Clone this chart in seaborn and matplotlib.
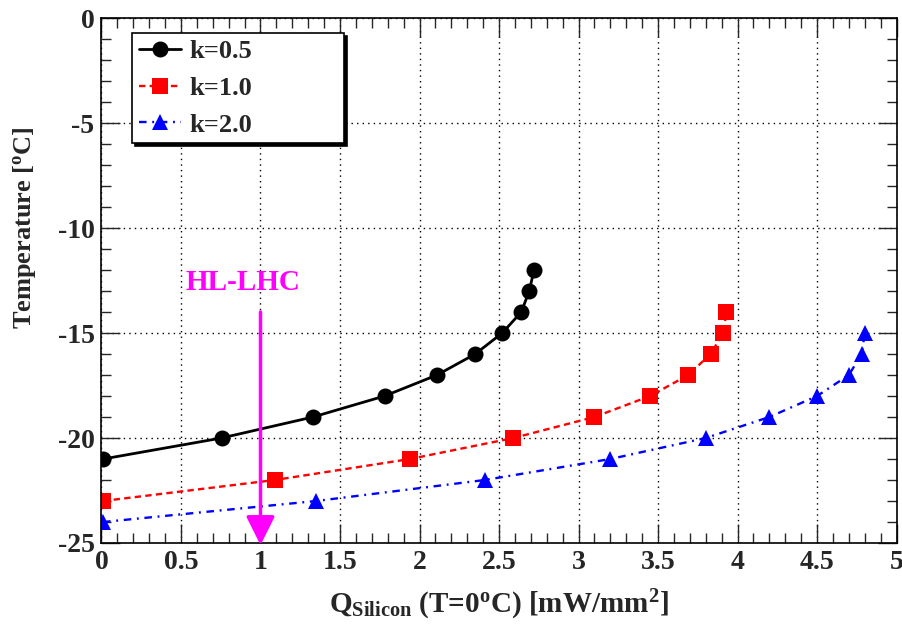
import numpy as np
import pandas as pd
import seaborn as sns
import matplotlib.pyplot as plt
from matplotlib.ticker import MultipleLocator

# Q_Silicon [mW/mm2] vs temperature [C] for three conductivity values
temps_k05 = [-21, -20, -19, -18, -17, -16, -15, -14, -13, -12]
q_k05 = [0.01, 0.755, 1.33, 1.78, 2.11, 2.35, 2.52, 2.64, 2.69, 2.72]

temps_k10 = [-23, -22, -21, -20, -19, -18, -17, -16, -15, -14]
q_k10 = [0.01, 1.09, 1.94, 2.59, 3.10, 3.45, 3.69, 3.83, 3.91, 3.93]

temps_k20 = [-24, -23, -22, -21, -20, -19, -18, -17, -16, -15]
q_k20 = [0.01, 1.35, 2.41, 3.20, 3.80, 4.20, 4.50, 4.70, 4.78, 4.80]

series_names = ["k=0.5", "k=1.0", "k=2.0"]

hl_lhc_q = 1.0
hl_lhc_top = -14.0

sns.set_style("ticks")
plt.rcParams['font.family'] = ['Liberation Serif', 'DejaVu Serif']
plt.rcParams['font.weight'] = 'bold'
plt.rcParams['mathtext.fontset'] = 'custom'
plt.rcParams['mathtext.rm'] = 'Liberation Serif:bold'
plt.rcParams['mathtext.it'] = 'Liberation Serif:bold'
plt.rcParams['mathtext.bf'] = 'Liberation Serif:bold'

df = pd.concat([
    pd.DataFrame({'q': q_k05, 'temp': temps_k05, 'k': series_names[0]}),
    pd.DataFrame({'q': q_k10, 'temp': temps_k10, 'k': series_names[1]}),
    pd.DataFrame({'q': q_k20, 'temp': temps_k20, 'k': series_names[2]}),
])

fig = plt.figure(figsize=(9.02, 6.26), dpi=100)
ax = fig.add_axes([0.1125, 0.1326, 0.8815, 0.8385])

styles = {
    "k=0.5": dict(color='black', marker='o', linestyle='-', markersize=11.5, lw=2),
    "k=1.0": dict(color='red', marker='s', linestyle=(0, (2.7, 1.8)), markersize=11, lw=1.7),
    "k=2.0": dict(color='blue', marker='^', linestyle=(0, (3.2, 2.4, 0.8, 2.4)), markersize=11.5, lw=1.7),
}

for name in series_names:
    sub = df[df['k'] == name]
    st = styles[name]
    sns.lineplot(data=sub, x='q', y='temp', ax=ax, sort=False, label=name,
                 color=st['color'], marker=st['marker'], linestyle=st['linestyle'],
                 markersize=st['markersize'], markeredgewidth=0, linewidth=st['lw'])

# HL-LHC arrow
ax.annotate("", xy=(hl_lhc_q, -25.1), xytext=(hl_lhc_q, hl_lhc_top),
            annotation_clip=False,
            arrowprops=dict(arrowstyle='-|>,head_length=0.8,head_width=0.4',
                            color='magenta', lw=2.5, mutation_scale=22,
                            shrinkA=0, shrinkB=0))
ax.text(0.89, -12.6, "HL-LHC", color='magenta', fontsize=21, fontweight='bold',
        ha='center', va='center')

ax.set_xlim(0, 5)
ax.set_ylim(-25, 0)
ax.xaxis.set_major_locator(MultipleLocator(0.5))
ax.xaxis.set_minor_locator(MultipleLocator(0.1))
ax.yaxis.set_major_locator(MultipleLocator(5))
ax.yaxis.set_minor_locator(MultipleLocator(1))
ax.xaxis.set_major_formatter(plt.FuncFormatter(lambda v, p: f"{v:g}"))
ax.yaxis.set_major_formatter(plt.FuncFormatter(lambda v, p: f"{v:g}"))

ax.tick_params(which='both', direction='in', top=True, right=True,
               labelsize=20, width=1)
ax.tick_params(which='major', length=14, pad=5)
ax.tick_params(which='minor', length=7)
for s in ax.spines.values():
    s.set_linewidth(1.2)
    s.set_color('black')

ax.grid(True, which='major', color='black', linestyle=(0, (1, 3)), linewidth=1)

ax.set_xlabel(r"Q$_{\mathrm{Silicon}}$ (T=0$^{\mathrm{o}}$C) [mW/mm$^{2}$]",
              fontsize=21, fontweight='bold')
ax.set_ylabel(r"Temperature [$^{\mathrm{o}}$C]", fontsize=19, fontweight='bold')
ax.xaxis.set_label_coords(0.5, -0.085)
ax.yaxis.set_label_coords(-0.08, 0.6)

leg = ax.legend(loc='upper left', bbox_to_anchor=(0.039, 0.0, 0.266, 0.971),
                mode='expand', borderaxespad=0,
                fancybox=False, frameon=True, edgecolor='black', fontsize=19,
                handlelength=1.6, handletextpad=0.3, borderpad=0.25, labelspacing=0.5,
                shadow={'color': 'black', 'alpha': 1})
leg.get_frame().set_linewidth(1.2)
for t in leg.get_texts():
    t.set_fontweight('bold')

fig.savefig("out.png", dpi=100)
